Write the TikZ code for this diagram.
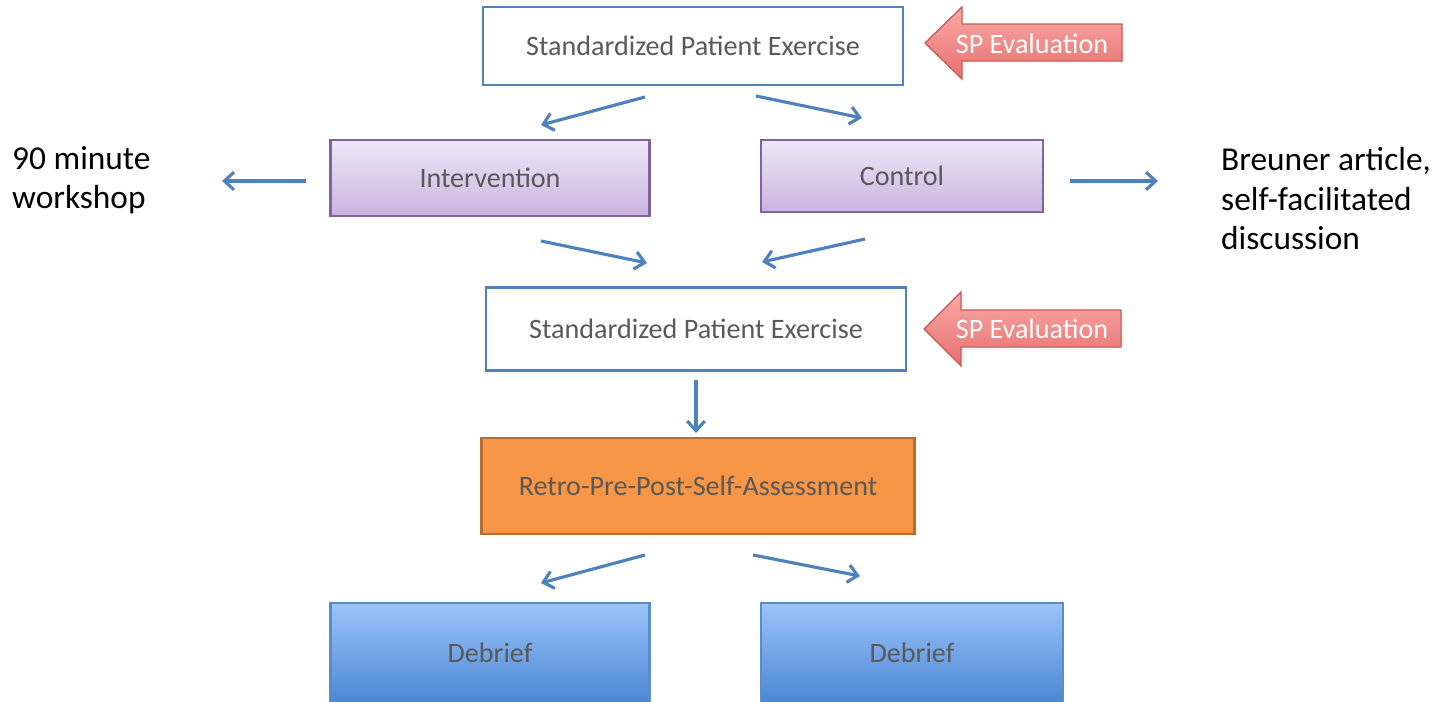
\documentclass[tikz,border=0pt]{standalone}
\usepackage{fontspec}
\setmainfont{Carlito}
\usetikzlibrary{positioning,arrows.meta,shadows,calc}

\definecolor{flowblue}{HTML}{4F81BD}
\definecolor{boxtext}{HTML}{595959}
\definecolor{lilacedge}{HTML}{8064A2}
\definecolor{lilactop}{HTML}{EEE8F6}
\definecolor{lilacbot}{HTML}{C9B4E0}
\definecolor{orangefill}{HTML}{F79646}
\definecolor{orangeedge}{HTML}{B66D31}
\definecolor{debrieftop}{HTML}{9DC3FA}
\definecolor{debriefbot}{HTML}{4A87D2}
\definecolor{debriefedge}{HTML}{5A8CCB}
\definecolor{sptop}{HTML}{FAAAA8}
\definecolor{spbot}{HTML}{E6706D}
\definecolor{spedge}{HTML}{C9605D}

\tikzset{
  box/.style={draw, line width=1.2pt, inner sep=0pt, text=boxtext,
    font=\fontsize{16}{19}\selectfont,
    drop shadow={opacity=0.2, shadow xshift=0.8pt, shadow yshift=-0.8pt}},
  exambox/.style={box, draw=flowblue, fill=white},
  groupbox/.style={box, draw=lilacedge, top color=lilactop, bottom color=lilacbot},
  surveybox/.style={box, draw=orangeedge, fill=orangefill, line width=1.6pt},
  debriefbox/.style={box, draw=debriefedge, top color=debrieftop, bottom color=debriefbot},
  side/.style={align=left, anchor=west, font=\fontsize{19}{22.5}\selectfont},
  flow/.style={draw=flowblue, line width=1.8pt, -{Straight Barb[length=5.5pt,width=10pt]}},
  sparrow/.style={draw=spedge, line width=0.8pt, top color=sptop, bottom color=spbot,
    drop shadow={opacity=0.2, shadow xshift=0.8pt, shadow yshift=-0.8pt}},
  sptext/.style={text=white, font=\fontsize{16}{19}\selectfont}
}

\begin{document}
\begin{tikzpicture}[x=0.02cm, y=-0.02cm]
  \useasboundingbox (0,0) rectangle (1437,702);

  % main boxes
  \node[exambox, minimum width=8.4cm, minimum height=1.56cm] (exam1) at (693,46) {Standardized Patient Exercise};
  \node[groupbox, minimum width=6.38cm, minimum height=1.52cm] (interv) at (490,178) {Intervention};
  \node[groupbox, minimum width=5.64cm, minimum height=1.44cm] (control) at (902,176) {Control};
  \node[exambox, minimum width=8.4cm, minimum height=1.66cm] (exam2) at (696,329) {Standardized Patient Exercise};
  \node[surveybox, minimum width=8.66cm, minimum height=1.92cm] (survey) at (698,486) {Retro-Pre-Post-Self-Assessment};
  \node[debriefbox, minimum width=6.38cm, minimum height=2cm] (debrief1) at (490,653) {Debrief};
  \node[debriefbox, minimum width=6.04cm, minimum height=2cm] (debrief2) at (912,653) {Debrief};

  % side notes
  \node[side] (workshop) at (6,180) {90 minute\\workshop};
  \node[side] (article) at (1215,199) {Breuner article,\\self-facilitated\\discussion};

  % SP evaluation arrows
  \draw[sparrow] (925,43) -- ++(37,-36) -- ++(0,17) -- ++(160,0) -- ++(0,37)
    -- ++(-160,0) -- ++(0,18) -- cycle;
  \node[sptext] (speval1) at (1032,44) {SP Evaluation};
  \draw[sparrow] (924,329) -- ++(37,-37) -- ++(0,18) -- ++(160,0) -- ++(0,37)
    -- ++(-160,0) -- ++(0,19) -- cycle;
  \node[sptext] (speval2) at (1032,329) {SP Evaluation};

  % loose arrow ends
  \coordinate (s1) at (645,97);  \coordinate (e1) at (541,125);
  \coordinate (s2) at (756,96);  \coordinate (e2) at (862,118);
  \coordinate (s3) at (306,181); \coordinate (e3) at (222,181);
  \coordinate (s4) at (1070,181);\coordinate (e4) at (1158,181);
  \coordinate (s5) at (541,241); \coordinate (e5) at (647,263);
  \coordinate (s6) at (865,239); \coordinate (e6) at (762,262);
  \coordinate (s7) at (696,380); \coordinate (e7) at (696,433);
  \coordinate (s8) at (645,555); \coordinate (e8) at (541,583);
  \coordinate (s9) at (753,555); \coordinate (e9) at (860,576);

  \foreach \i in {1,...,9} \draw[flow] (s\i) -- (e\i);
\end{tikzpicture}
\end{document}
